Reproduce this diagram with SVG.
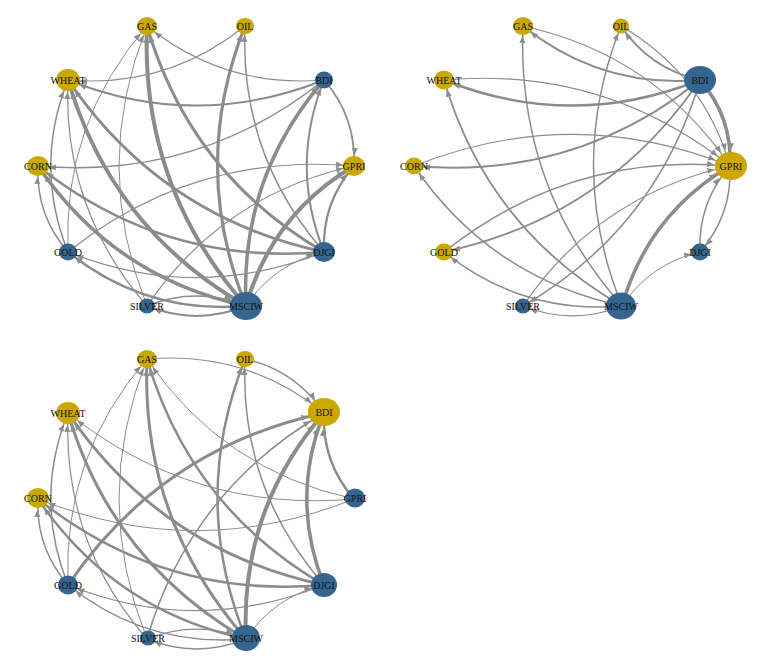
<svg xmlns="http://www.w3.org/2000/svg" width="771" height="670" viewBox="0 0 771 670">
<style>
.e{fill:none;stroke:#8c8c8c;stroke-linecap:butt}
.g{fill:#cba800}
.b{fill:#366590}
text{font-family:"Liberation Serif","Times New Roman",serif;font-size:10px;fill:#111;text-anchor:middle}
</style>
<defs>
<marker id="r8" markerUnits="userSpaceOnUse" markerWidth="30" markerHeight="8" refX="15" refY="3" orient="auto" overflow="visible"><path d="M0,0 L7,3 L0,6 Z" fill="#8c8c8c"/></marker>
<marker id="r9" markerUnits="userSpaceOnUse" markerWidth="30" markerHeight="8" refX="16" refY="3" orient="auto" overflow="visible"><path d="M0,0 L7,3 L0,6 Z" fill="#8c8c8c"/></marker>
<marker id="r10" markerUnits="userSpaceOnUse" markerWidth="30" markerHeight="8" refX="17" refY="3" orient="auto" overflow="visible"><path d="M0,0 L7,3 L0,6 Z" fill="#8c8c8c"/></marker>
<marker id="r11" markerUnits="userSpaceOnUse" markerWidth="30" markerHeight="8" refX="18" refY="3" orient="auto" overflow="visible"><path d="M0,0 L7,3 L0,6 Z" fill="#8c8c8c"/></marker>
<marker id="r12" markerUnits="userSpaceOnUse" markerWidth="30" markerHeight="8" refX="19" refY="3" orient="auto" overflow="visible"><path d="M0,0 L7,3 L0,6 Z" fill="#8c8c8c"/></marker>
<marker id="r13" markerUnits="userSpaceOnUse" markerWidth="30" markerHeight="8" refX="20" refY="3" orient="auto" overflow="visible"><path d="M0,0 L7,3 L0,6 Z" fill="#8c8c8c"/></marker>
<marker id="r14" markerUnits="userSpaceOnUse" markerWidth="30" markerHeight="8" refX="21" refY="3" orient="auto" overflow="visible"><path d="M0,0 L7,3 L0,6 Z" fill="#8c8c8c"/></marker>
<marker id="r16" markerUnits="userSpaceOnUse" markerWidth="30" markerHeight="8" refX="23" refY="3" orient="auto" overflow="visible"><path d="M0,0 L7,3 L0,6 Z" fill="#8c8c8c"/></marker>
</defs>
<rect width="771" height="670" fill="#ffffff"/>

<!-- Panel 1 -->
<g id="panel1">
<g id="p1-edges">
<path class="e" stroke-width="1.2" marker-end="url(#r10)" d="M324,80 Q224.7,88.4 147,26"/>
<path class="e" stroke-width="1.2" marker-end="url(#r12)" d="M245,26 Q167.3,88.4 68,80"/>
<path class="e" stroke-width="2" marker-end="url(#r12)" d="M324,80 Q196,131.2 68,80"/>
<path class="e" stroke-width="1.5" marker-end="url(#r11)" d="M324,80 Q198.2,180.2 38,166"/>
<path class="e" stroke-width="1.8" marker-end="url(#r11)" d="M324,80 Q356.2,117 354,166"/>
<path class="e" stroke-width="3.5" marker-end="url(#r9)" d="M246,306 Q239.8,177.4 324,80"/>
<path class="e" stroke-width="3.2" marker-end="url(#r9)" d="M246,306 Q189.5,166.2 245,26"/>
<path class="e" stroke-width="1.5" marker-end="url(#r9)" d="M324,252 Q239.3,154.8 245,26"/>
<path class="e" stroke-width="2" marker-end="url(#r9)" d="M324,252 Q289.6,166 324,80"/>
<path class="e" stroke-width="4" marker-end="url(#r11)" d="M246,306 Q272,214.4 354,166"/>
<path class="e" stroke-width="2.2" marker-end="url(#r11)" d="M324,252 Q321.8,203 354,166"/>
<path class="e" stroke-width="1.2" marker-end="url(#r11)" d="M68,252 Q193.8,151.8 354,166"/>
<path class="e" stroke-width="1.2" marker-end="url(#r11)" d="M147,306 Q222.5,194.6 354,166"/>
<path class="e" stroke-width="1" marker-end="url(#r11)" d="M246,306 Q274.2,263.4 324,252"/>
<path class="e" stroke-width="1" marker-end="url(#r10)" d="M68,252 Q62.3,123.2 147,26"/>
<path class="e" stroke-width="1" marker-end="url(#r10)" d="M147,306 Q91,166 147,26"/>
<path class="e" stroke-width="1.5" marker-end="url(#r12)" d="M68,252 Q33.6,166 68,80"/>
<path class="e" stroke-width="1.2" marker-end="url(#r12)" d="M147,306 Q62.3,208.8 68,80"/>
<path class="e" stroke-width="4" marker-end="url(#r12)" d="M246,306 Q111.8,228.6 68,80"/>
<path class="e" stroke-width="3" marker-end="url(#r12)" d="M324,252 Q161.6,217.2 68,80"/>
<path class="e" stroke-width="4" marker-end="url(#r10)" d="M246,306 Q140.5,185.8 147,26"/>
<path class="e" stroke-width="3" marker-end="url(#r10)" d="M324,252 Q190.3,174.4 147,26"/>
<path class="e" stroke-width="3.5" marker-end="url(#r11)" d="M246,306 Q114,277.6 38,166"/>
<path class="e" stroke-width="2.5" marker-end="url(#r11)" d="M324,252 Q163.8,266.2 38,166"/>
<path class="e" stroke-width="1.5" marker-end="url(#r11)" d="M68,252 Q35.8,215 38,166"/>
<path class="e" stroke-width="1.2" marker-end="url(#r9)" d="M324,252 Q196,303.2 68,252"/>
<path class="e" stroke-width="2.5" marker-end="url(#r9)" d="M246,306 Q146.2,314.6 68,252"/>
<path class="e" stroke-width="2" marker-end="url(#r8)" d="M246,306 Q196.5,325.8 147,306"/>
<path class="e" stroke-width="1.5" marker-end="url(#r16)" d="M147,306 Q196.5,286.2 246,306"/>
</g>
<g id="p1-GAS"><ellipse class="g" cx="147" cy="26" rx="10" ry="9"/><text x="147" y="29.5">GAS</text></g>
<g id="p1-OIL"><ellipse class="g" cx="245" cy="26" rx="9" ry="8"/><text x="245" y="29.5">OIL</text></g>
<g id="p1-WHEAT"><ellipse class="g" cx="68" cy="80" rx="12" ry="11"/><text x="68" y="83.5">WHEAT</text></g>
<g id="p1-BDI"><ellipse class="b" cx="324" cy="80" rx="9" ry="8.5"/><text x="324" y="83.5">BDI</text></g>
<g id="p1-CORN"><ellipse class="g" cx="38" cy="166" rx="11" ry="10"/><text x="38" y="169.5">CORN</text></g>
<g id="p1-GPRI"><ellipse class="g" cx="354" cy="166" rx="11" ry="10"/><text x="354" y="169.5">GPRI</text></g>
<g id="p1-GOLD"><ellipse class="b" cx="68" cy="252" rx="9" ry="8.5"/><text x="68" y="255.5">GOLD</text></g>
<g id="p1-DJGI"><ellipse class="b" cx="324" cy="252" rx="11" ry="10"/><text x="324" y="255.5">DJGI</text></g>
<g id="p1-SILVER"><ellipse class="b" cx="147" cy="306" rx="8" ry="7.5"/><text x="147" y="309.5">SILVER</text></g>
<g id="p1-MSCIW"><ellipse class="b" cx="246" cy="306" rx="16" ry="14"/><text x="246" y="309.5">MSCIW</text></g>
</g>

<!-- Panel 2 -->
<g id="panel2" transform="translate(376,0)">
<g id="p2-edges">
<path class="e" stroke-width="2.2" marker-end="url(#r10)" d="M324,80 Q224.7,88.4 147,26"/>
<path class="e" stroke-width="1.2" marker-end="url(#r16)" d="M147,26 Q278.5,54.6 354,166"/>
<path class="e" stroke-width="2" marker-end="url(#r8)" d="M324,80 Q273.7,68.8 245,26"/>
<path class="e" stroke-width="1.2" marker-end="url(#r16)" d="M245,26 Q327.5,74.2 354,166"/>
<path class="e" stroke-width="1.5" marker-end="url(#r8)" d="M246,306 Q189.5,166.2 245,26"/>
<path class="e" stroke-width="1.8" marker-end="url(#r10)" d="M246,306 Q111.8,228.6 68,80"/>
<path class="e" stroke-width="2.5" marker-end="url(#r10)" d="M324,80 Q196,131.2 68,80"/>
<path class="e" stroke-width="1.2" marker-end="url(#r16)" d="M68,80 Q228.2,65.8 354,166"/>
<path class="e" stroke-width="2" marker-end="url(#r9)" d="M324,80 Q198.2,180.2 38,166"/>
<path class="e" stroke-width="1.2" marker-end="url(#r16)" d="M38,166 Q196,102.8 354,166"/>
<path class="e" stroke-width="1.5" marker-end="url(#r9)" d="M246,306 Q114,277.6 38,166"/>
<path class="e" stroke-width="1.8" marker-end="url(#r9)" d="M324,80 Q230.4,217.2 68,252"/>
<path class="e" stroke-width="1.5" marker-end="url(#r16)" d="M68,252 Q193.8,151.8 354,166"/>
<path class="e" stroke-width="1.5" marker-end="url(#r9)" d="M246,306 Q146.2,314.6 68,252"/>
<path class="e" stroke-width="1.5" marker-end="url(#r8)" d="M324,80 Q280.7,228.4 147,306"/>
<path class="e" stroke-width="1.2" marker-end="url(#r16)" d="M147,306 Q222.5,194.6 354,166"/>
<path class="e" stroke-width="1.2" marker-end="url(#r8)" d="M246,306 Q196.5,325.8 147,306"/>
<path class="e" stroke-width="3.5" marker-end="url(#r16)" d="M324,80 Q356.2,117 354,166"/>
<path class="e" stroke-width="3.5" marker-end="url(#r16)" d="M246,306 Q272,214.4 354,166"/>
<path class="e" stroke-width="1.5" marker-end="url(#r9)" d="M354,166 Q356.2,215 324,252"/>
<path class="e" stroke-width="1.5" marker-end="url(#r16)" d="M324,252 Q321.8,203 354,166"/>
<path class="e" stroke-width="1" marker-end="url(#r9)" d="M246,306 Q274.2,263.4 324,252"/>
<path class="e" stroke-width="1.5" marker-end="url(#r10)" d="M246,306 Q140.5,185.8 147,26"/>
</g>
<g id="p2-GAS"><ellipse class="g" cx="147" cy="26" rx="10" ry="9"/><text x="147" y="29.5">GAS</text></g>
<g id="p2-OIL"><ellipse class="g" cx="245" cy="26" rx="8" ry="7.5"/><text x="245" y="29.5">OIL</text></g>
<g id="p2-WHEAT"><ellipse class="g" cx="68" cy="80" rx="10" ry="9.5"/><text x="68" y="83.5">WHEAT</text></g>
<g id="p2-BDI"><ellipse class="b" cx="324" cy="80" rx="16" ry="14"/><text x="324" y="83.5">BDI</text></g>
<g id="p2-CORN"><ellipse class="g" cx="38" cy="166" rx="9" ry="8.5"/><text x="38" y="169.5">CORN</text></g>
<g id="p2-GPRI"><ellipse class="g" cx="355" cy="166" rx="16" ry="14"/><text x="355" y="169.5">GPRI</text></g>
<g id="p2-GOLD"><ellipse class="g" cx="68" cy="252" rx="9" ry="8.5"/><text x="68" y="255.5">GOLD</text></g>
<g id="p2-DJGI"><ellipse class="b" cx="324" cy="252" rx="9" ry="8.5"/><text x="324" y="255.5">DJGI</text></g>
<g id="p2-SILVER"><ellipse class="b" cx="147" cy="306" rx="8" ry="7.5"/><text x="147" y="309.5">SILVER</text></g>
<g id="p2-MSCIW"><ellipse class="b" cx="245" cy="306" rx="15" ry="13.5"/><text x="245" y="309.5">MSCIW</text></g>
</g>

<!-- Panel 3 -->
<g id="panel3" transform="translate(0,333)">
<g id="p3-edges">
<path class="e" stroke-width="1.2" marker-end="url(#r16)" d="M147,26 Q246.3,17.6 324,80"/>
<path class="e" stroke-width="1.5" marker-end="url(#r16)" d="M245,26 Q295.3,37.2 324,80"/>
<path class="e" stroke-width="3" marker-end="url(#r16)" d="M68,252 Q161.6,114.8 324,80"/>
<path class="e" stroke-width="4" marker-end="url(#r16)" d="M246,306 Q239.8,177.4 324,80"/>
<path class="e" stroke-width="3.5" marker-end="url(#r16)" d="M324,252 Q289.6,166 324,80"/>
<path class="e" stroke-width="2.5" marker-end="url(#r16)" d="M354,166 Q321.8,129 324,80"/>
<path class="e" stroke-width="1.5" marker-end="url(#r16)" d="M147,306 Q190.3,157.6 324,80"/>
<path class="e" stroke-width="1" marker-end="url(#r10)" d="M354,166 Q222.5,137.4 147,26"/>
<path class="e" stroke-width="1" marker-end="url(#r12)" d="M354,166 Q193.8,180.2 68,80"/>
<path class="e" stroke-width="1" marker-end="url(#r11)" d="M354,166 Q196,229.2 38,166"/>
<path class="e" stroke-width="1" marker-end="url(#r10)" d="M68,252 Q62.3,123.2 147,26"/>
<path class="e" stroke-width="3" marker-end="url(#r10)" d="M246,306 Q140.5,185.8 147,26"/>
<path class="e" stroke-width="2.5" marker-end="url(#r10)" d="M324,252 Q190.3,174.4 147,26"/>
<path class="e" stroke-width="2.5" marker-end="url(#r9)" d="M246,306 Q189.5,166.2 245,26"/>
<path class="e" stroke-width="1.5" marker-end="url(#r9)" d="M324,252 Q239.3,154.8 245,26"/>
<path class="e" stroke-width="1.5" marker-end="url(#r12)" d="M68,252 Q33.6,166 68,80"/>
<path class="e" stroke-width="1.2" marker-end="url(#r12)" d="M147,306 Q62.3,208.8 68,80"/>
<path class="e" stroke-width="3" marker-end="url(#r12)" d="M246,306 Q111.8,228.6 68,80"/>
<path class="e" stroke-width="3" marker-end="url(#r12)" d="M324,252 Q161.6,217.2 68,80"/>
<path class="e" stroke-width="1.5" marker-end="url(#r11)" d="M68,252 Q35.8,215 38,166"/>
<path class="e" stroke-width="2.5" marker-end="url(#r11)" d="M324,252 Q163.8,266.2 38,166"/>
<path class="e" stroke-width="2.5" marker-end="url(#r11)" d="M246,306 Q114,277.6 38,166"/>
<path class="e" stroke-width="1.2" marker-end="url(#r10)" d="M324,252 Q196,303.2 68,252"/>
<path class="e" stroke-width="1.5" marker-end="url(#r10)" d="M246,306 Q146.2,314.6 68,252"/>
<path class="e" stroke-width="1" marker-end="url(#r10)" d="M147,306 Q91,166 147,26"/>
<path class="e" stroke-width="1" marker-end="url(#r13)" d="M246,306 Q274.2,263.4 324,252"/>
<path class="e" stroke-width="1.5" marker-end="url(#r8)" d="M246,306 Q196.5,325.8 147,306"/>
<path class="e" stroke-width="1.2" marker-end="url(#r14)" d="M147,306 Q196.5,286.2 246,306"/>
</g>
<g id="p3-GAS"><ellipse class="g" cx="147" cy="26" rx="10" ry="9"/><text x="147" y="29.5">GAS</text></g>
<g id="p3-OIL"><ellipse class="g" cx="245" cy="26" rx="9" ry="8"/><text x="245" y="29.5">OIL</text></g>
<g id="p3-WHEAT"><ellipse class="g" cx="68" cy="80" rx="12" ry="11"/><text x="68" y="83.5">WHEAT</text></g>
<g id="p3-BDI"><ellipse class="g" cx="324" cy="79" rx="16" ry="14"/><text x="324" y="82.5">BDI</text></g>
<g id="p3-CORN"><ellipse class="g" cx="38" cy="165" rx="11" ry="10"/><text x="38" y="168.5">CORN</text></g>
<g id="p3-GPRI"><ellipse class="b" cx="355" cy="165" rx="10" ry="9.5"/><text x="355" y="168.5">GPRI</text></g>
<g id="p3-GOLD"><ellipse class="b" cx="68" cy="252" rx="10" ry="9.5"/><text x="68" y="255.5">GOLD</text></g>
<g id="p3-DJGI"><ellipse class="b" cx="324" cy="252" rx="13" ry="12"/><text x="324" y="255.5">DJGI</text></g>
<g id="p3-SILVER"><ellipse class="b" cx="148" cy="305" rx="8" ry="7.5"/><text x="148" y="308.5">SILVER</text></g>
<g id="p3-MSCIW"><ellipse class="b" cx="246" cy="305" rx="14" ry="13"/><text x="246" y="308.5">MSCIW</text></g>
</g>
</svg>
